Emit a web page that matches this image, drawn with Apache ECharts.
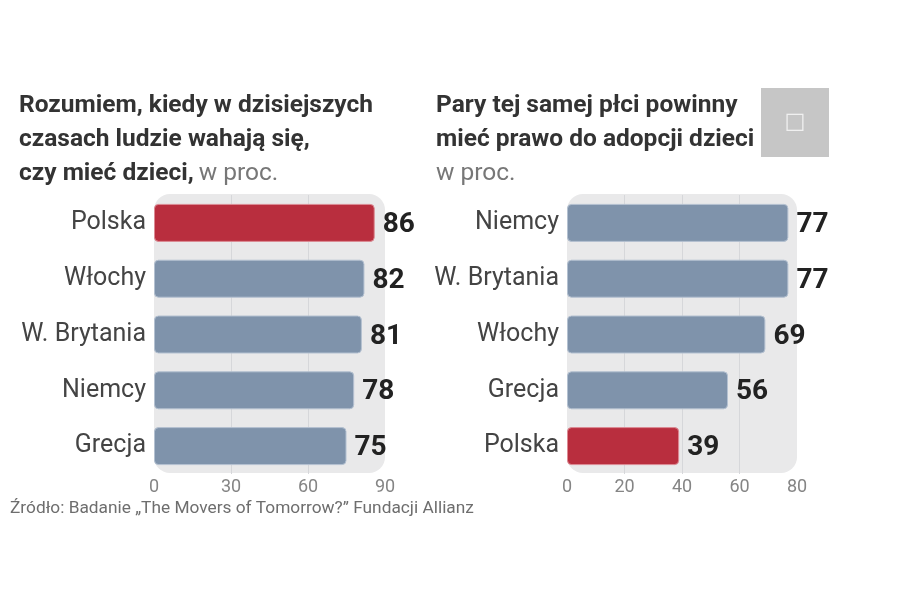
<!DOCTYPE html>
<html><head><meta charset="utf-8">
<style>html,body{margin:0;padding:0;background:#fff}#c{width:900px;height:591px}</style>
<script src="https://cdn.jsdelivr.net/npm/echarts@6/dist/echarts.min.js"></script>
</head><body><div id="c"></div>
<script>
const leftCategories = ['Polska','Włochy','W. Brytania','Niemcy','Grecja'];
const leftValues = [86,82,81,78,75];
const rightCategories = ['Niemcy','W. Brytania','Włochy','Grecja','Polska'];
const rightValues = [77,77,69,56,39];
const highlightCategory = 'Polska';
const BLUE='#7f93ab', RED='#b92e3e';
const font='Roboto';

function items(cats, vals){
  return vals.map((v,i)=>({value:v,itemStyle:{color:cats[i]===highlightCategory?RED:BLUE,
    borderColor:cats[i]===highlightCategory?'#dc8b94':'#b4c1d1'}}));
}
function panel(x,w){
  return {type:'rect',z:-1,silent:true,shape:{x:x,y:194,width:w,height:279,r:16},style:{fill:'#e9e9ea'}};
}
function xa(idx,max,interval){
  return {gridIndex:idx,type:'value',min:0,max:max,interval:interval,
    axisLine:{show:false},axisTick:{show:false},
    axisLabel:{show:true,color:'#858585',fontFamily:font,fontSize:18,margin:4,
      hideOverlap:false,showMinLabel:true,showMaxLabel:true},
    splitLine:{show:true,showMinLine:false,showMaxLine:false,lineStyle:{color:'#d6d7da',width:1}}};
}
function ya(idx,cats){
  return {gridIndex:idx,type:'category',inverse:true,data:cats,
    axisLine:{show:false},axisTick:{show:false},splitLine:{show:false},
    axisLabel:{color:'#444',fontFamily:font,fontSize:25,margin:8}};
}
function ser(idx,cats,vals){
  return {type:'bar',xAxisIndex:idx,yAxisIndex:idx,data:items(cats,vals),barWidth:38,
    itemStyle:{borderWidth:1,borderRadius:4},
    label:{show:true,position:'right',distance:8,offset:[0,2],color:'#222',fontFamily:font,fontWeight:'bold',fontSize:28}};
}
const richT={b:{fontFamily:font,fontWeight:'bold',fontSize:24.5,color:'#333',lineHeight:34},
             r:{fontFamily:font,fontWeight:'normal',fontSize:24.5,color:'#777',lineHeight:34}};
const chart=echarts.init(document.getElementById('c'),null,{renderer:'canvas'});
chart.setOption({
  animation:false,backgroundColor:'#fff',
  title:[
    {left:19,top:89,padding:0,text:'{b|Rozumiem, kiedy w dzisiejszych}\n{b|czasach ludzie wahają się,}\n{b|czy mieć dzieci,} {r|w proc.}',textStyle:{rich:richT}},
    {left:436,top:89,padding:0,text:'{b|Pary tej samej płci powinny}\n{b|mieć prawo do adopcji dzieci}\n{r|w proc.}',textStyle:{rich:richT}},
    {left:10,top:500,padding:0,text:'Źródło: Badanie „The Movers of Tomorrow?” Fundacji Allianz',textStyle:{fontFamily:font,fontWeight:'normal',fontSize:17.3,color:'#6e6e6e'}}
  ],
  grid:[{left:154,top:195,width:231,height:279},{left:567,top:195,width:230,height:279}],
  xAxis:[xa(0,90,30),xa(1,80,20)],
  yAxis:[ya(0,leftCategories),ya(1,rightCategories)],
  series:[ser(0,leftCategories,leftValues),ser(1,rightCategories,rightValues)],
  graphic:[panel(154,231),panel(567,230),
    {type:'rect',silent:true,z:-2,shape:{x:761,y:88,width:68,height:69},style:{fill:'#c6c6c6'}},
    {type:'text',silent:true,z:5,style:{x:795,y:122,text:'\u25A1',fill:'#f0f0f0',fontSize:22,fontFamily:'"DejaVu Sans"',align:'center',verticalAlign:'middle'}}
  ]
});
</script></body></html>
